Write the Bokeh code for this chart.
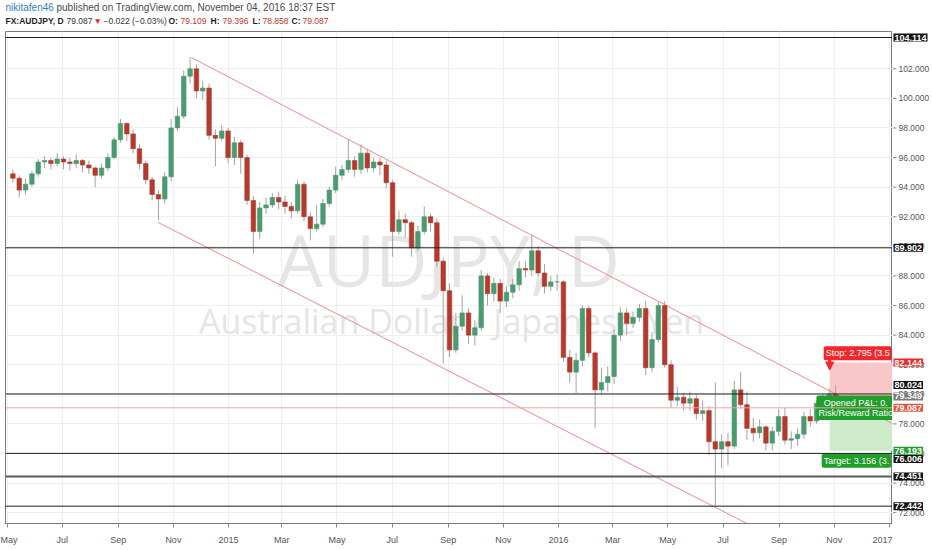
import pandas as pd
from bokeh.core.properties import value
from bokeh.embed import file_html
from bokeh.layouts import column, row
from bokeh.models import (Arrow, ColumnDataSource, FixedTicker, Label, NormalHead,
                          Range1d, Span)
from bokeh.plotting import figure
from bokeh.resources import INLINE

UP = "#4b9a70"
DOWN = "#b23b2e"
WICK = "#a3a3a3"
CHANNEL = "#f28b8b"
FONT = "Open Sans"
SMALL_FONT = "Liberation Sans"
FRAME_W, FRAME_H = 887, 492
SCALE_W, HEAD_H, BOTTOM = 39, 31, 26

# one bar per week, Mon 5 May 2014 .. Mon 31 Oct 2016
first_week = "2014-05-05"
first_open = 94.9
close = [94.6, 93.8, 94.2, 94.9, 95.7, 95.8, 95.6, 95.9, 95.7, 95.6,
         95.8, 95.5, 95.3, 94.8, 95.3, 96.0, 97.2, 98.3, 97.6, 96.6,
         95.6, 94.5, 93.5, 93.2, 94.7, 98.0, 98.8, 101.5, 102.0, 100.5,
         100.7, 97.5, 97.3, 97.8, 96.0, 97.0, 96.0, 93.1, 91.0, 92.6,
         92.8, 93.3, 93.0, 92.7, 92.4, 94.2, 92.0, 91.2, 91.5, 92.9,
         93.8, 94.8, 95.2, 95.8, 95.2, 96.3, 95.3, 95.7, 95.5, 94.3,
         91.0, 91.8, 91.6, 89.9, 91.0, 92.0, 91.6, 89.0, 87.0, 83.0,
         84.6, 85.5, 84.0, 84.5, 88.0, 86.8, 87.5, 86.3, 86.9, 87.4,
         88.5, 88.4, 89.7, 88.2, 87.3, 87.6, 87.6, 82.5, 81.5, 82.3,
         85.8, 82.8, 80.3, 80.8, 81.2, 84.0, 85.5, 84.8, 85.2, 85.8,
         81.8, 83.7, 86.0, 82.0, 79.6, 79.8, 79.4, 79.7, 78.7, 78.9,
         76.8, 76.3, 76.8, 76.5, 80.3, 79.3, 77.7, 77.4, 77.8, 76.7,
         77.5, 78.5, 76.9, 77.0, 77.3, 78.5, 78.2, 79.4, 79.7, 80.0,
         79.087]
high = [95.2, 94.8, 94.6, 95.1, 95.9, 96.1, 96.0, 96.3, 96.1, 96.0,
        96.2, 95.9, 95.8, 95.4, 95.6, 96.3, 97.4, 98.6, 98.4, 97.9,
        96.9, 95.8, 94.7, 93.8, 95.0, 98.6, 99.4, 101.9, 102.8, 102.3,
        101.2, 101.0, 97.9, 98.2, 98.0, 97.4, 97.2, 96.2, 93.4, 93.0,
        93.3, 93.6, 93.7, 93.4, 93.0, 94.5, 94.4, 92.3, 92.8, 93.2,
        94.0, 95.4, 95.5, 97.2, 96.1, 96.9, 96.6, 96.0, 96.0, 95.8,
        94.5, 92.4, 92.2, 91.7, 91.4, 92.7, 92.2, 91.9, 89.2, 87.5,
        85.5, 86.7, 85.8, 85.0, 88.4, 88.2, 87.9, 87.8, 87.3, 87.8,
        89.0, 89.0, 90.8, 90.0, 88.8, 88.0, 88.1, 87.7, 83.0, 82.8,
        86.0, 86.0, 82.9, 81.8, 81.9, 84.4, 85.9, 85.8, 85.6, 86.1,
        86.3, 84.2, 86.3, 86.3, 82.3, 80.5, 80.1, 80.2, 80.0, 79.6,
        79.2, 80.8, 77.3, 77.4, 80.9, 81.5, 80.2, 78.4, 78.3, 77.9,
        77.8, 79.0, 79.1, 77.5, 77.7, 78.8, 79.0, 79.6, 80.0, 80.4,
        80.6]
low = [94.3, 93.3, 93.5, 94.0, 94.7, 95.3, 95.2, 95.4, 95.2, 95.1,
       95.3, 95.0, 94.9, 94.0, 94.6, 95.1, 95.9, 97.0, 97.1, 96.3,
       95.2, 94.2, 93.1, 91.8, 92.9, 94.4, 97.8, 98.6, 101.0, 100.0,
       99.9, 97.2, 95.4, 97.1, 95.6, 95.5, 94.9, 92.8, 89.5, 90.5,
       92.2, 92.6, 92.5, 92.2, 91.9, 92.2, 91.7, 90.4, 91.0, 91.3,
       92.7, 93.6, 94.5, 95.0, 94.7, 94.9, 95.0, 95.0, 94.8, 93.9,
       89.3, 90.8, 90.6, 89.3, 89.7, 90.8, 91.0, 88.6, 82.1, 82.5,
       82.8, 84.3, 83.4, 83.3, 84.3, 86.0, 86.3, 85.5, 85.9, 86.5,
       87.0, 87.9, 88.0, 87.9, 86.8, 87.0, 87.0, 82.2, 80.8, 80.1,
       81.9, 82.5, 77.7, 80.0, 80.2, 80.7, 83.6, 84.0, 84.5, 84.9,
       81.3, 81.5, 83.5, 81.8, 79.1, 79.2, 78.9, 78.9, 78.3, 78.2,
       75.9, 72.44, 75.0, 75.2, 76.3, 79.0, 76.9, 76.8, 77.0, 76.2,
       76.2, 77.2, 76.6, 76.3, 76.5, 77.0, 77.8, 78.0, 79.0, 79.4,
       78.858]

# horizontal levels drawn by the author
levels = [104.114, 89.902, 80.024, 76.006, 74.451, 72.442]
last_price = 79.087
entry_price = 79.349
stop_price = 82.144
target_price = 76.193
position_start = "2016-10-27"

# what can be read of the position tool's labels (they run off the chart's right edge)
stop_text = "Stop: 2.795 (3.5"
pnl_text = "Opened P&L: 0.\nRisk/Reward Ratio"
target_text = "Target: 3.156 (3."

# descending channel
upper_channel_dates = ["2014-11-21", "2017-01-06"]
upper_channel_prices = [102.76, 77.97]
lower_channel_dates = ["2014-10-15", "2016-08-25"]
lower_channel_prices = [91.62, 70.38]

price_ticks = [72, 74, 76, 78, 80, 82, 84, 86, 88, 90, 92, 94, 96, 98, 100, 102]
month_ticks = ["2014-05-01", "2014-07-01", "2014-09-01", "2014-11-01", "2015-01-01",
               "2015-03-01", "2015-05-01", "2015-07-01", "2015-09-01", "2015-11-01",
               "2016-01-01", "2016-03-01", "2016-05-01", "2016-07-01", "2016-09-01",
               "2016-11-01", "2017-01-01"]
month_labels = ["May", "Jul", "Sep", "Nov", "2015", "Mar", "May", "Jul", "Sep", "Nov",
                "2016", "Mar", "May", "Jul", "Sep", "Nov", "2017"]

# price-scale labels: colour and vertical shift in px so that they do not overlap
scale_labels = [
    (104.114, "#131313", 0), (89.902, "#131313", 0), (stop_price, "#f3262b", 0),
    (80.024, "#131313", 9), (entry_price, "#7b7b7b", 7.5), (last_price, "#e0553f", 0),
    (target_price, "#1f9e2a", 0), (76.006, "#131313", -5.5), (74.451, "#131313", 0),
    (72.442, "#131313", 0),
]

# header: (x px, line, text, colour, bold)
header = [
    (5, 0, "nikitafen46", "#2f80c3", False),
    (56, 0, "published on TradingView.com, November 04, 2016 18:37 EST", "#4a4a4a", False),
    (5, 1, "FX:AUDJPY, D", "#1e1e1e", True),
    (66, 1, "79.087", "#333333", False),
    (93, 1, "▼", "#e0302c", False),
    (103, 1, "−0.022 (−0.03%)", "#333333", False),
    (168, 1, "O:", "#1e1e1e", True),
    (180, 1, "79.109", "#c0352f", False),
    (210, 1, "H:", "#1e1e1e", True),
    (222, 1, "79.396", "#c0352f", False),
    (252, 1, "L:", "#1e1e1e", True),
    (262, 1, "78.858", "#c0352f", False),
    (291, 1, "C:", "#1e1e1e", True),
    (302, 1, "79.087", "#c0352f", False),
]


def ms(day):
    return pd.Timestamp(day).value / 1e6


def bare(fig):
    fig.outline_line_color = None
    fig.grid.grid_line_color = None
    fig.background_fill_color = "white"
    fig.border_fill_color = "white"


week_start = pd.date_range(first_week, periods=len(close), freq="7D")
opens = [first_open] + close[:-1]
bars = pd.DataFrame({"x": week_start + pd.Timedelta(hours=60), "open": opens,
                     "close": close, "high": high, "low": low})
bars["top"] = bars[["open", "close"]].max(axis=1)
bars["bottom"] = bars[["open", "close"]].min(axis=1)
bars["color"] = [UP if c >= o else DOWN for o, c in zip(bars["open"], bars["close"])]
source = ColumnDataSource(bars)

# ---- main chart ----
x_start, x_end = ms("2014-04-29 07:00"), ms("2017-01-04 12:00")
y_range = Range1d(71.27, 104.52)
p = figure(frame_width=FRAME_W, frame_height=FRAME_H, x_axis_type="datetime",
           y_axis_location=None, x_range=Range1d(x_start, x_end), y_range=y_range,
           output_backend="svg", toolbar_location=None,
           min_border_left=5, min_border_right=0, min_border_top=0, min_border_bottom=BOTTOM)
p.background_fill_color = "white"
p.border_fill_color = "white"
p.outline_line_color = "#7a7a7a"

tick_ms = [ms(d) for d in month_ticks]
p.xaxis.ticker = FixedTicker(ticks=tick_ms)
p.xaxis.major_label_overrides = dict(zip(tick_ms, month_labels))
p.xgrid.ticker = FixedTicker(ticks=tick_ms)
p.ygrid.ticker = FixedTicker(ticks=price_ticks)
p.grid.grid_line_color = "#efefef"
p.xaxis.axis_line_color = "#7a7a7a"
p.xaxis.major_tick_line_color = "#8a8a8a"
p.xaxis.minor_tick_line_color = None
p.xaxis.major_tick_in = 0
p.xaxis.major_tick_out = 4
p.xaxis.major_label_standoff = 7
p.xaxis.major_label_text_color = "#555555"
p.xaxis.major_label_text_font = SMALL_FONT
p.xaxis.major_label_text_font_size = "9px"

# watermark
p.add_layout(Label(x=443, y=265, x_units="screen", y_units="screen", text="AUDJPY, D",
                   text_font=FONT, text_font_size="72px", text_color="#e5e5e5",
                   text_align="center", text_baseline="middle", level="underlay"))
p.add_layout(Label(x=446, y=203, x_units="screen", y_units="screen",
                   text="Australian Dollar / Japanese Yen", text_font=FONT,
                   text_font_size="34px", text_color="#e5e5e5",
                   text_align="center", text_baseline="middle", level="underlay"))

# short position zones
pos_x = ms(position_start)
p.quad(left=[pos_x], right=[x_end + 8.64e8], bottom=[entry_price], top=[stop_price],
       fill_color="#f9c7c7", line_color=None)
p.quad(left=[pos_x], right=[x_end + 8.64e8], bottom=[target_price], top=[entry_price],
       fill_color="#cdeacb", line_color=None)

# channel
p.line([ms(d) for d in upper_channel_dates], upper_channel_prices, color=CHANNEL, line_width=1)
p.line([ms(d) for d in lower_channel_dates], lower_channel_prices, color=CHANNEL, line_width=1)

# candles
p.segment(x0="x", y0="high", x1="x", y1="low", source=source, color=WICK, line_width=1)
p.vbar(x="x", width=5 * 8.64e7, top="top", bottom="bottom", source=source,
       fill_color="color", line_color="color", line_width=0.6)

# levels and last price
for lvl in levels:
    wide = lvl == 74.451
    p.add_layout(Span(location=lvl, dimension="width", line_width=2 if wide else 1,
                      line_color="#5a5a5a" if wide else "#1f1f1f"))
p.add_layout(Span(location=last_price, dimension="width", line_color="#f2a3a3", line_width=1))

# position labels
p.text(x=[pos_x], y=[stop_price + 0.64], text=[stop_text], x_offset=-6,
       text_align="left", text_baseline="middle", text_color="white",
       text_font=value(SMALL_FONT), text_font_size="9px",
       background_fill_color="#f3262b", padding=2, border_radius=2)
p.text(x=[pos_x], y=[last_price], text=[pnl_text],
       x_offset=26, text_align="center", text_baseline="middle", text_color="white",
       text_font=value(SMALL_FONT), text_font_size="9px", text_line_height=1.05,
       background_fill_color="#1f9e2a", padding=2, border_radius=2)
p.text(x=[pos_x], y=[target_price - 0.69], text=[target_text], x_offset=-8,
       text_align="left", text_baseline="middle", text_color="white",
       text_font=value(SMALL_FONT), text_font_size="9px",
       background_fill_color="#1f9e2a", padding=2, border_radius=2)
p.add_layout(Arrow(x_start=pos_x, y_start=stop_price + 0.35, x_end=pos_x, y_end=stop_price - 0.5,
                   line_color="#f3262b", line_width=3,
                   end=NormalHead(size=8, fill_color="#f3262b", line_color="#f3262b")))

# ---- price scale on the right, sharing the price range ----
s = figure(frame_width=SCALE_W, frame_height=FRAME_H, x_range=Range1d(0, SCALE_W),
           y_range=y_range, x_axis_location=None, y_axis_location=None,
           output_backend="svg", toolbar_location=None,
           min_border_left=0, min_border_right=0, min_border_top=0, min_border_bottom=BOTTOM)
bare(s)
s.segment(x0=[0] * len(price_ticks), y0=price_ticks, x1=[4] * len(price_ticks), y1=price_ticks,
          color="#8a8a8a", line_width=1)
s.text(x=[6] * len(price_ticks), y=price_ticks, text=[f"{t:.3f}" for t in price_ticks],
       text_align="left", text_baseline="middle", text_color="#555555",
       text_font=value(SMALL_FONT), text_font_size="8.5px")
units_per_px = (y_range.end - y_range.start) / FRAME_H
for price, colour, shift in scale_labels:
    s.text(x=[1], y=[price + shift * units_per_px], text=[f"{price:.3f}"],
           text_align="left", text_baseline="middle", text_color="white",
           text_font=value(SMALL_FONT), text_font_size="9px", text_font_style="bold",
           text_line_height=1.0, background_fill_color=colour, padding=1)

# ---- header ----
h = figure(frame_width=FRAME_W + 5 + SCALE_W, frame_height=HEAD_H,
           x_range=Range1d(0, FRAME_W + 5 + SCALE_W), y_range=Range1d(HEAD_H, 0),
           x_axis_location=None, y_axis_location=None,
           output_backend="svg", toolbar_location=None, min_border=0)
bare(h)
for hx, line, txt, colour, bold in header:
    h.text(x=[hx], y=[7.3 if line == 0 else 20.7], text=[txt], text_align="left",
           text_baseline="middle", text_color=colour, text_font=value(SMALL_FONT),
           text_font_size="10px" if line == 0 else "8.5px",
           text_font_style="bold" if bold else "normal")

layout = column(h, row(p, s, spacing=0), spacing=0)
open("out.html", "w").write(file_html(layout, INLINE))
